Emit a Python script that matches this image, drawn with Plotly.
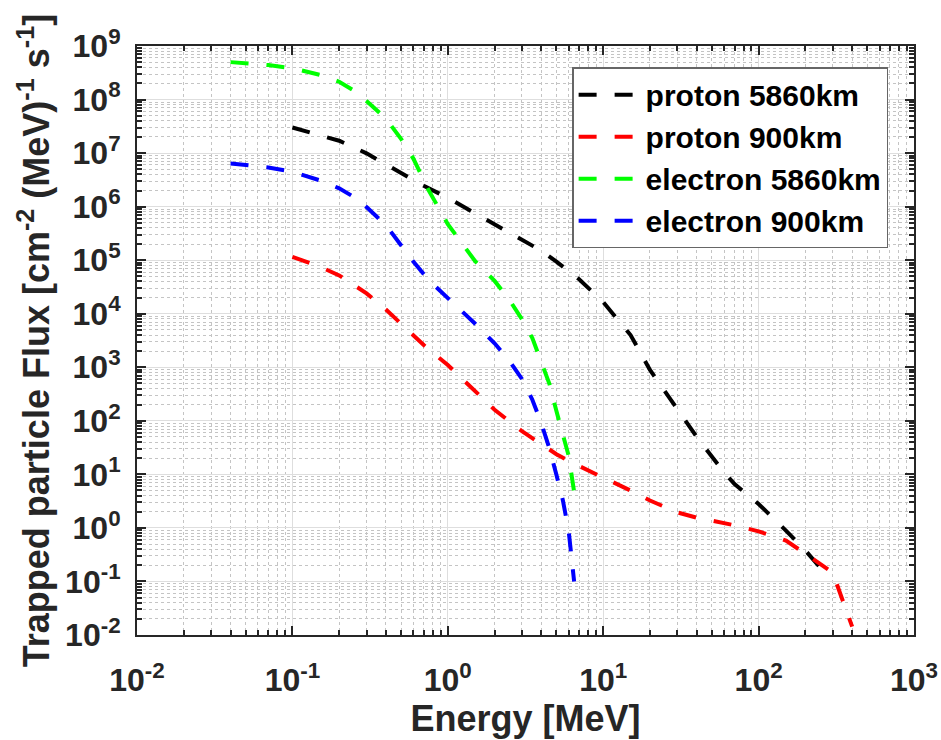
import plotly.graph_objects as go

# ---- data ----
energy_electron = [0.04, 0.07, 0.1, 0.15, 0.2, 0.25, 0.3, 0.4, 0.5, 0.6, 0.75, 1.0,
                   1.5, 2.0, 2.5, 3.0, 3.5, 4.0, 4.5, 5.0, 5.5, 6.0, 6.5]
electron_5860km = [5.0e8, 4.4e8, 3.85e8, 2.9e8, 2.15e8, 1.45e8, 9.4e7, 4.4e7, 1.85e7, 7.9e6,
                   2.06e6, 4.7e5, 9.6e4, 4.1e4, 1.78e4, 7.9e3, 3.5e3, 1.3e3, 497, 152, 55, 22, 4.7]
electron_900km = [6.4e6, 5.4e6, 4.5e6, 3.1e6, 2.2e6, 1.5e6, 9.8e5, 4.5e5, 1.9e5, 9.4e4,
                  4.3e4, 2.0e4, 6.5e3, 2.8e3, 1.3e3, 605, 248, 89, 31, 9.8, 3.3, 0.86, 0.1]

energy_proton_5860 = [0.1, 0.15, 0.2, 0.3, 0.4, 0.5, 0.6, 0.7, 1.0, 1.5, 2.0, 3.0, 4.0, 5.0,
                      6.0, 7.0, 10.0, 15.0, 20.0, 30.0, 40.0, 50.0, 60.0, 70.0, 100.0,
                      150.0, 200.0, 270.0]
proton_5860km = [3.0e7, 2.2e7, 1.7e7, 9.9e6, 6.1e6, 4.2e6, 3.1e6, 2.45e6, 1.46e6, 7.5e5,
                 4.6e5, 2.4e5, 1.5e5, 9.4e4, 6.2e4, 4.4e4, 1.65e4, 4.0e3, 890, 165, 50,
                 21.5, 10.9, 6.6, 2.8, 0.89, 0.38, 0.138]

energy_proton_900 = [0.1, 0.15, 0.2, 0.3, 0.4, 0.5, 0.6, 0.7, 1.0, 1.5, 2.0, 3.0, 4.0, 5.0,
                     6.0, 7.0, 10.0, 15.0, 20.0, 30.0, 40.0, 50.0, 60.0, 70.0, 100.0,
                     150.0, 200.0, 300.0, 400.0]
proton_900km = [1.15e5, 7.6e4, 5.2e4, 2.4e4, 1.2e4, 6.4e3, 3.9e3, 2.6e3, 1.1e3, 347, 161,
                64, 36, 23.8, 17.8, 14.2, 8.7, 5.0, 3.25, 1.95, 1.55, 1.37, 1.23, 1.12,
                0.86, 0.58, 0.33, 0.145, 0.0143]

series_names = ["proton 5860km", "proton 900km", "electron 5860km", "electron 900km"]
series_colors = ["#000000", "#ff0000", "#00ff00", "#0000ff"]

x_tick_vals = [1e-2, 1e-1, 1e0, 1e1, 1e2, 1e3]
x_tick_text = ["10<sup>-2</sup>", "10<sup>-1</sup>", "10<sup>0</sup>", "10<sup>1</sup>",
               "10<sup>2</sup>", "10<sup>3</sup>"]
y_tick_vals = [10.0 ** k for k in range(-2, 10)]
y_tick_text = ["10<sup>%d</sup>" % k for k in range(-2, 10)]

FONT = "Liberation Sans"

fig = go.Figure()
data = [
    (energy_proton_5860, proton_5860km),
    (energy_proton_900, proton_900km),
    (energy_electron, electron_5860km),
    (energy_electron, electron_900km),
]
for (xs, ys), name, col in zip(data, series_names, series_colors):
    fig.add_trace(go.Scatter(
        x=xs, y=ys, mode="lines", name=name, legendgroup=name,
        line=dict(color=col, width=4, dash="18px,18px"),
    ))

axis_common = dict(
    type="log",
    showline=True, linecolor="#262626", linewidth=2, mirror="allticks",
    ticks="inside", ticklen=9, tickwidth=1.5, tickcolor="#262626",
    showgrid=True, gridcolor="#dedede", gridwidth=1,
    zeroline=False,
    tickfont=dict(family=FONT, size=32, color="#262626", weight="bold"),
    minor=dict(dtick="D1", showgrid=True, gridcolor="#c4c4c4", griddash="dot",
               gridwidth=1, ticks="inside", ticklen=5, tickcolor="#262626"),
)

fig.update_xaxes(
    **axis_common,
    range=[-2, 3],
    tickvals=x_tick_vals, ticktext=x_tick_text,
    ticklabelstandoff=16,
    title=dict(text="Energy [MeV]", standoff=4,
               font=dict(family=FONT, size=36, color="#262626", weight="bold")),
)
fig.update_yaxes(
    **axis_common,
    range=[-2, 9],
    tickvals=y_tick_vals, ticktext=y_tick_text,
    ticklabelstandoff=8,
    title=dict(text="Trapped particle Flux [cm<sup>-2</sup> (MeV)<sup>-1</sup> s<sup>-1</sup>]",
               standoff=4,
               font=dict(family=FONT, size=36, color="#262626", weight="bold")),
)

fig.update_layout(
    width=941, height=740,
    margin=dict(l=137, r=27, t=46, b=105, autoexpand=False),
    paper_bgcolor="white", plot_bgcolor="white",
    showlegend=True,
    legend=dict(
        x=0.56, y=0.964, xanchor="left", yanchor="top",
        bgcolor="white", bordercolor="#666666", borderwidth=1.5,
        font=dict(family=FONT, size=30, color="#000000", weight="bold"),
        traceorder="grouped", tracegroupgap=0,
        itemwidth=62,
    ),
)

fig.write_html("out.html")
